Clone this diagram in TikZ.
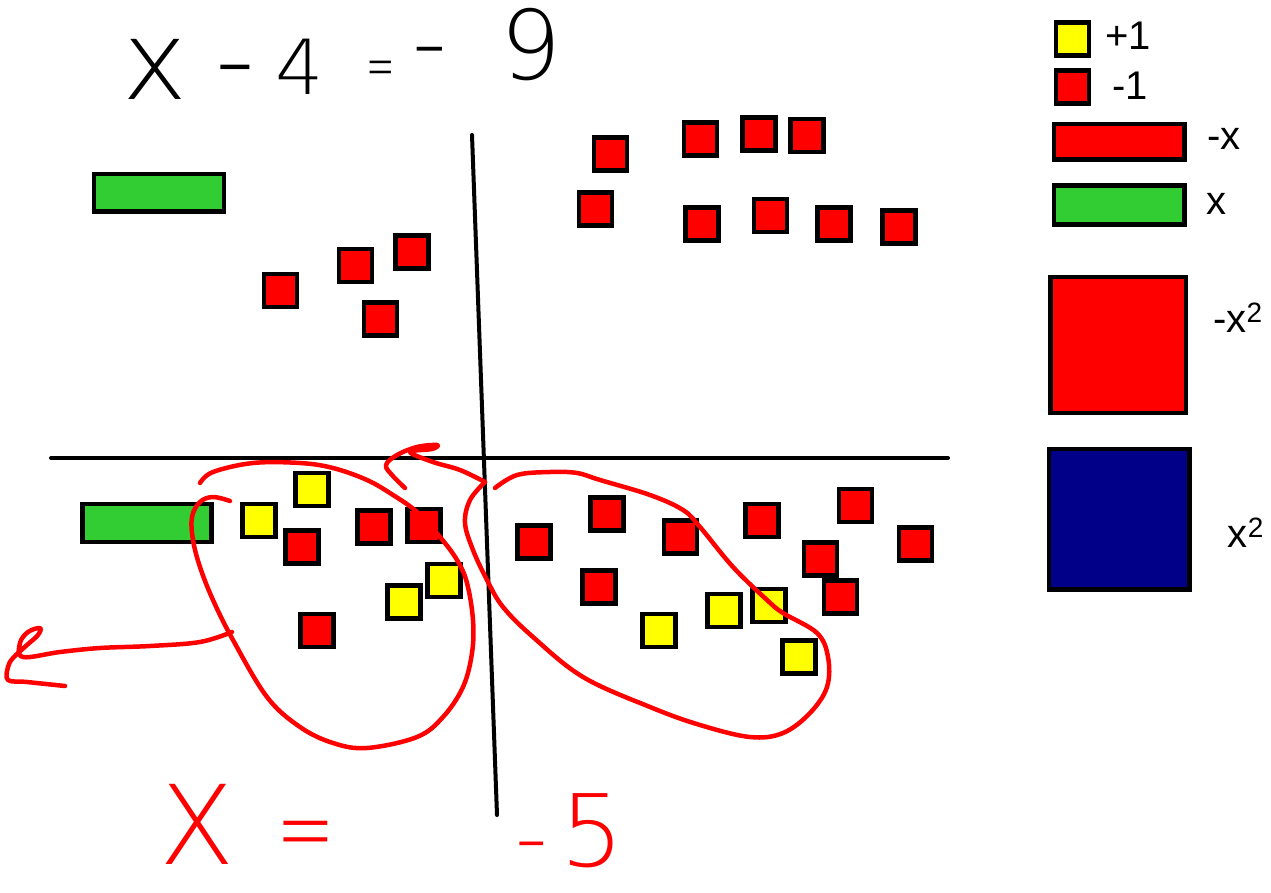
\documentclass[tikz,border=0pt]{standalone}
\usepackage{fontspec}
\setmainfont{Liberation Sans}
\newfontfamily\handfont{DejaVu Sans ExtraLight}
\usepackage{graphicx}
\definecolor{tred}{RGB}{255,0,0}
\definecolor{tyellow}{RGB}{255,255,0}
\definecolor{tgreen}{RGB}{50,205,50}
\definecolor{tblue}{RGB}{0,0,136}
\begin{document}
\begin{tikzpicture}[x=1pt,y=-1pt,
  tile/.style={draw=black, line width=4.5pt, minimum size=33pt, inner sep=0pt, outer sep=0pt},
  plusone/.style={tile, fill=tyellow},
  minusone/.style={tile, fill=tred},
  bar/.style={draw=black, line width=4.5pt, inner sep=0pt, outer sep=0pt},
  axis/.style={line width=4pt, line cap=round},
  pen/.style={tred, line width=4.5pt, line cap=round, line join=round},
  lbl/.style={font=\fontsize{40}{48}\selectfont, inner sep=0pt, anchor=base},
  hand/.style={inner sep=0pt, anchor=base}
]
\useasboundingbox (0,0) rectangle (1271,893);

% mat lines
\coordinate (vt) at (472,135);
\coordinate (vb) at (497,815);
\coordinate (hl) at (51,458);
\coordinate (hr) at (948,458);
\draw[axis] (vt) -- (vb);
\draw[axis] (hl) -- (hr);

% top-left quadrant
\node[bar, fill=tgreen, minimum width=129.7pt, minimum height=37.7pt] (gx1) at (158.9,192.9) {};
\node[minusone] (a1) at (280.5,290.5) {};
\node[minusone] (a2) at (355.5,265.5) {};
\node[minusone] (a3) at (412,252) {};
\node[minusone] (a4) at (380.5,319) {};

% top-right quadrant
\node[minusone] (b1) at (610.5,154) {};
\node[minusone] (b2) at (700.5,139) {};
\node[minusone] (b3) at (759,134) {};
\node[minusone] (b4) at (807,135.5) {};
\node[minusone] (b5) at (595.5,209) {};
\node[minusone] (b6) at (702,224) {};
\node[minusone] (b7) at (770.5,215.5) {};
\node[minusone] (b8) at (834,224) {};
\node[minusone] (b9) at (899,227) {};

% bottom-left quadrant
\node[bar, fill=tgreen, minimum width=129.4pt, minimum height=38pt] (gx2) at (147,523) {};
\node[plusone] (c1) at (259,520.5) {};
\node[plusone] (c2) at (312,489.5) {};
\node[plusone] (c3) at (444,580.5) {};
\node[plusone] (c4) at (404,602) {};
\node[minusone] (c5) at (302,547) {};
\node[minusone] (c6) at (374,527) {};
\node[minusone] (c7) at (424,525.5) {};
\node[minusone] (c8) at (317,630.5) {};

% bottom-right quadrant
\node[minusone] (d1) at (534,542) {};
\node[minusone] (d2) at (607,514) {};
\node[minusone] (d3) at (680.5,537) {};
\node[minusone] (d4) at (599,587) {};
\node[minusone] (d5) at (762,520.5) {};
\node[minusone] (d6) at (855.5,505.5) {};
\node[minusone] (d7) at (820.5,559) {};
\node[minusone] (d8) at (840.5,597) {};
\node[minusone] (d9) at (915.5,544) {};
\node[plusone] (d10) at (659,630.5) {};
\node[plusone] (d11) at (724,610.5) {};
\node[plusone] (d12) at (769,605.5) {};
\node[plusone] (d13) at (799,657) {};

% legend
\node[plusone] (k1) at (1072.5,39) {};
\node[minusone] (k2) at (1072.5,87) {};
\node[bar, fill=tred, minimum width=130.5pt, minimum height=35.5pt] (k3) at (1119.25,141.75) {};
\node[bar, fill=tgreen, minimum width=130.5pt, minimum height=39pt] (k4) at (1119.25,205) {};
\node[bar, fill=tred, minimum width=135.5pt, minimum height=136pt] (k5) at (1118.25,345) {};
\node[bar, fill=tblue, minimum width=140.5pt, minimum height=140.5pt] (k6) at (1119.25,519.25) {};
\node[lbl] (t1) at (1128,49.5) {+1};
\node[lbl] (t2) at (1130,100) {-1};
\node[lbl] (t3) at (1224,150) {-x};
\node[lbl] (t4) at (1216,215) {x};
\node[lbl] (t5) at (1238,332) {-x\textsuperscript{2}};
\node[lbl] (t6) at (1246,547) {x\textsuperscript{2}};

% handwritten equation
\node[hand, font=\handfont\fontsize{110}{120}\selectfont] (e1) at (155,100) {x};
\node[hand, font=\handfont\fontsize{110}{120}\selectfont] (e2) at (235,98) {-};
\node[hand, font=\handfont\fontsize{76}{90}\selectfont] (e3) at (300,95) {4};
\node[hand, font=\handfont\fontsize{40}{48}\selectfont] (e4) at (381,88) {\scalebox{0.85}[1.6]{=}};
\node[hand, font=\handfont\fontsize{96}{110}\selectfont] (e5) at (430,76) {-};
\node[hand, font=\handfont\fontsize{96}{110}\selectfont] (e6) at (531,80) {9};

% red handwritten answer
\node[hand, tred, font=\handfont\fontsize{110}{120}\selectfont] (r1) at (197,864) {X};
\node[hand, tred, font=\handfont\fontsize{70}{84}\selectfont] (r2) at (306,864) {\scalebox{1}[1.5]{=}};
\node[hand, tred, font=\handfont\fontsize{90}{100}\selectfont] (r3) at (532,868) {-};
\node[hand, tred, font=\handfont\fontsize{100}{110}\selectfont] (r4) at (592,866) {5};

% red pen strokes
\draw[pen] plot[smooth, tension=0.6] coordinates {(200,483) (213,472) (253,463) (300,463) (333,468) (367,480) (393,495) (417,512) (440,537) (457,560) (467,583) (473,620) (472,653) (463,687) (443,717) (417,737) (367,748) (333,743) (300,727) (267,697) (233,640) (213,600) (200,567) (193,540) (192,517) (200,502) (213,497) (230,501)};
\draw[pen] plot[smooth, tension=0.6] coordinates {(232,632) (200,642) (150,646) (100,648) (60,652) (23,657) (20,643) (28,632) (40,628) (38,635) (27,645) (13,658) (8,667) (8,680) (27,682) (65,686)};
\draw[pen] plot[smooth, tension=0.6] coordinates {(405,488) (392,475) (386,465) (397,455) (417,447) (437,445) (432,449) (410,452) (433,462) (460,470) (485,482)};
\draw[pen] plot[smooth, tension=0.6] coordinates {(485,482) (470,500) (465,523) (473,550) (487,580) (503,607) (533,637) (583,677) (650,707) (700,725) (750,737) (783,733) (810,713) (827,687) (828,657) (817,633) (783,613) (767,600) (733,567) (700,527) (683,510) (650,495) (600,480) (577,473) (550,472) (517,475) (495,488)};
\end{tikzpicture}
\end{document}
